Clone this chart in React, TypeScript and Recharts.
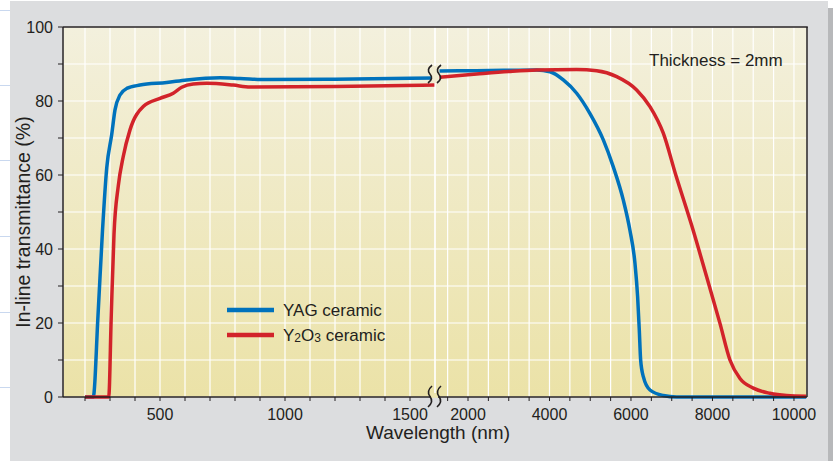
import React from "react";
import { LineChart, Line, XAxis, YAxis, CartesianGrid } from "recharts";

const W = 833;
const H = 461;
const FONT = '"Liberation Sans", Arial, Helvetica, sans-serif';
const INK = "#231f20";

// y axis
const yTicks = [0, 10, 20, 30, 40, 50, 60, 70, 80, 90, 100];
const yLabels = [0, 20, 40, 60, 80, 100];

// x axis, short-wavelength part (nm)
const nearDomain = [112, 1600];
const nearTicks = [200, 300, 400, 500, 600, 700, 800, 900, 1000, 1100, 1200, 1300, 1400, 1500];
const nearLabels = [500, 1000, 1500];

// x axis, long-wavelength part (nm)
const farDomain = [1190, 10320];
const farTicks = [1500, 2000, 2500, 3000, 3500, 4000, 4500, 5000, 5500, 6000, 6500, 7000, 7500, 8000, 8500, 9000, 9500, 10000];
const farLabels = [2000, 4000, 6000, 8000, 10000];

// [wavelength nm, in-line transmittance %]
const yagNear = [
  [200, 0], [233, 0], [252, 22], [270, 45], [287, 62], [307, 71], [320, 77.6],
  [340, 81.6], [367, 83.4], [420, 84.3], [527, 85], [607, 85.7], [740, 86.3],
  [820, 86.1], [927, 85.8], [1200, 85.9], [1600, 86.2],
];
const yagFar = [
  [1300, 88.1], [2200, 88.2], [3000, 88.3], [3685, 88.4], [4012, 87.9], [4339, 85.7],
  [4667, 82.1], [4994, 76.6], [5321, 69.5], [5566, 62.2], [5812, 53.2], [5975, 45],
  [6098, 36.1], [6163, 27.1], [6204, 18.1], [6237, 10], [6303, 5.5], [6466, 1.9],
  [6793, 0.4], [7120, 0], [10300, 0],
];
const y2o3Near = [
  [200, 0], [295, 0], [305, 22], [316, 44], [333, 57], [353, 65], [380, 72.2],
  [433, 78.5], [500, 80.7], [553, 82.1], [587, 83.7], [633, 84.6], [687, 84.8],
  [793, 84.3], [860, 83.8], [1200, 83.9], [1600, 84.3],
];
const y2o3Far = [
  [1300, 86.4], [2213, 87.3], [3000, 88.0], [3685, 88.4], [4667, 88.5], [5158, 88.2],
  [5649, 86.6], [6139, 83], [6466, 78.5], [6793, 71.3], [7100, 60], [7500, 46],
  [7857, 32.5], [8184, 19.9], [8429, 10], [8675, 5], [9002, 2.4],
  [9411, 1], [9820, 0.4], [10300, 0.2],
];

const toRows = (pts: number[][]) => pts.map(([wl, t]) => ({ wl, t }));

const series = [
  { key: "yag", color: "#0072bc", near: yagNear, far: yagFar, name: [["YAG ceramic", false]] },
  {
    key: "y2o3",
    color: "#d2232a",
    near: y2o3Near,
    far: y2o3Far,
    name: [["Y", false], ["2", true], ["O", false], ["3", true], [" ceramic", false]],
  },
];

function Segment({ part, domain, ticks, labels, margin, showY }: any) {
  return (
    <LineChart width={W} height={H} margin={margin}>
      <CartesianGrid stroke="#ffffff" strokeWidth={1.2} />
      <XAxis
        type="number"
        dataKey="wl"
        domain={domain}
        ticks={ticks}
        interval={0}
        tickSize={4}
        tickMargin={8}
        axisLine={{ stroke: INK, strokeWidth: 1.5 }}
        tickLine={{ stroke: INK, strokeWidth: 1 }}
        tick={{ fontSize: 16, fill: INK }}
        tickFormatter={(v: number) => (labels.includes(v) ? String(v) : "")}
      />
      <YAxis
        type="number"
        domain={[0, 100]}
        ticks={yTicks}
        interval={0}
        hide={!showY}
        width={60}
        tickSize={5}
        tickMargin={5}
        axisLine={{ stroke: INK, strokeWidth: 1.5 }}
        tickLine={{ stroke: INK, strokeWidth: 1 }}
        tick={{ fontSize: 16, fill: INK }}
        tickFormatter={(v: number) => (yLabels.includes(v) ? String(v) : "")}
      />
      {series.map((s) => (
        <Line
          key={s.key}
          data={toRows(s[part as "near" | "far"])}
          dataKey="t"
          type="monotone"
          stroke={s.color}
          strokeWidth={3.5}
          dot={false}
          activeDot={false}
          isAnimationActive={false}
        />
      ))}
    </LineChart>
  );
}

function BreakMark({ cx, y0, h }: { cx: number; y0: number; h: number }) {
  const s = (x: number) =>
    `M${x + 2},${y0} Q${x - 4},${y0 + h * 0.25} ${x},${y0 + h / 2} Q${x + 4},${y0 + h * 0.75} ${x - 2},${y0 + h}`;
  return (
    <g>
      <path d={s(cx - 4.5)} fill="none" stroke={INK} strokeWidth={1.6} />
      <path d={s(cx + 4.5)} fill="none" stroke={INK} strokeWidth={1.6} />
    </g>
  );
}

export default function App() {
  const plotL = 63;
  const plotT = 27;
  const plotR = 807;
  const plotB = 397;
  return (
    <div
      style={{
        position: "absolute",
        left: 0,
        top: 0,
        width: W,
        height: H,
        overflow: "hidden",
        background: "#ffffff",
        fontFamily: FONT,
      }}
    >
      {[10, 85, 160, 236, 312, 387].map((y) => (
        <div key={y} style={{ position: "absolute", left: 0, top: y, width: 10, height: 1, background: "#c9d8ef" }} />
      ))}
      <div style={{ position: "absolute", left: 10, top: 1, width: 818, height: 460, background: "#dcdddf" }} />
      <div style={{ position: "absolute", left: 828, top: 8, width: 5, height: 453, background: "#b7b8ba" }} />
      <div
        style={{
          position: "absolute",
          left: plotL,
          top: plotT,
          width: plotR - plotL,
          height: plotB - plotT,
          background: "linear-gradient(#f3f0dd, #ebe2a7)",
        }}
      />
      <div style={{ position: "absolute", left: 0, top: 0 }}>
        <Segment
          part="near"
          domain={nearDomain}
          ticks={nearTicks}
          labels={nearLabels}
          margin={{ top: plotT, right: W - 435, bottom: H - plotB - 30, left: plotL - 60 }}
          showY
        />
      </div>
      <div style={{ position: "absolute", left: 0, top: 0 }}>
        <Segment
          part="far"
          domain={farDomain}
          ticks={farTicks}
          labels={farLabels}
          margin={{ top: plotT, right: W - plotR, bottom: H - plotB - 30, left: 435 }}
          showY={false}
        />
      </div>
      <svg width={W} height={H} style={{ position: "absolute", left: 0, top: 0, pointerEvents: "none" }}>
        <line x1={plotL} y1={plotT} x2={plotR + 0.75} y2={plotT} stroke={INK} strokeWidth={1.5} />
        <line x1={plotR} y1={plotT} x2={plotR} y2={plotB} stroke={INK} strokeWidth={1.5} />

        <rect x={431} y={66} width={7} height={17} fill="#f1ecd2" />
        <BreakMark cx={434.5} y0={65} h={18} />
        <rect x={431} y={393} width={7} height={8} fill="#ece4ae" />
        <rect x={431} y={397.8} width={7} height={8} fill="#dcdddf" />
        <BreakMark cx={434.5} y0={386} h={21} />

        <text x={649} y={66} fontSize={17} fill={INK}>
          Thickness = 2mm
        </text>

        {series.map((s, i) => (
          <g key={s.key}>
            <line x1={227} x2={274} y1={310 + i * 25} y2={310 + i * 25} stroke={s.color} strokeWidth={4.5} />
            <text x={283} y={316 + i * 25} fontSize={17} fill={INK}>
              {s.name.map(([txt, sub], j) => (
                <tspan key={j} fontSize={sub ? 12 : 17} dy={sub ? 1 : j > 0 && s.name[j - 1][1] ? -1 : 0}>
                  {txt as string}
                </tspan>
              ))}
            </text>
          </g>
        ))}

        <text x={438} y={439} fontSize={19} fill={INK} textAnchor="middle">
          Wavelength (nm)
        </text>
        <text x={30} y={222} fontSize={19.5} fill={INK} textAnchor="middle" transform="rotate(-90 30 222)">
          In-line transmittance (%)
        </text>
      </svg>
    </div>
  );
}
